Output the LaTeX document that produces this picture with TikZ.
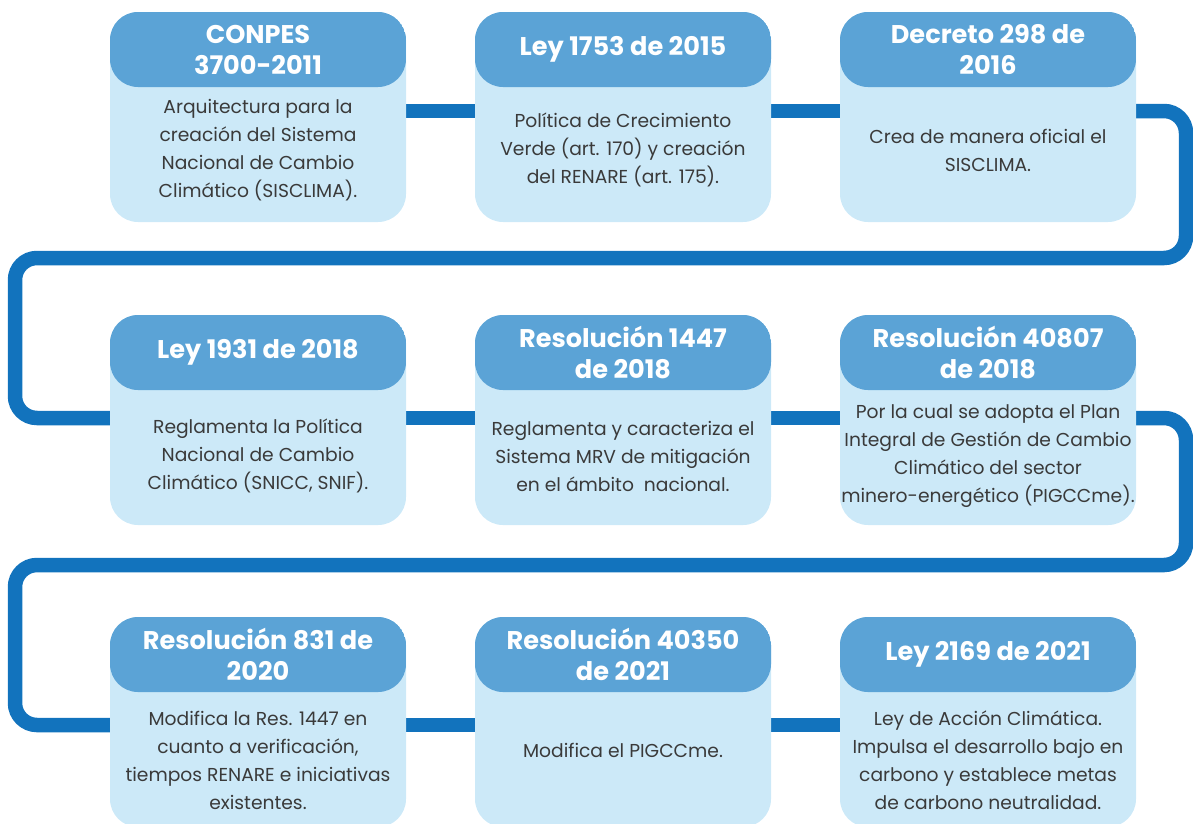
\documentclass[tikz,border=0pt]{standalone}
\usepackage{fontspec}
\setmainfont{Poppins}
\usetikzlibrary{backgrounds}
\definecolor{hdr}{HTML}{5BA3D6}
\definecolor{bodyc}{HTML}{CCE9F8}
\definecolor{conn}{HTML}{1273BD}
\definecolor{txt}{HTML}{3A3A3A}
\tikzset{
  card/.style={rectangle, rounded corners=28pt, minimum width=296pt, minimum height=210pt,
    inner sep=0pt, fill=bodyc,
    path picture={\fill[hdr] (path picture bounding box.north west) rectangle ([yshift=-75pt]path picture bounding box.north east);}},
  titletext/.style={text=white, font=\fontsize{25.6}{31}\selectfont\bfseries, align=center, inner sep=0pt},
  bodytext/.style={text=txt, font=\fontsize{18.7}{28}\selectfont, align=center, inner sep=0pt},
  conline/.style={draw=conn, line width=14.5pt, rounded corners=22pt}
}
\newcommand\mycard[6]{%
  \node[card] (#1) at (#2,#3+105) {};
  \node[titletext] (#1t) at (#2,#3+37.5) {#4};
  \node[bodytext] (#1b) at (#2,#6) {#5};
}
\begin{document}
\begin{tikzpicture}[x=1pt,y=-1pt]
\useasboundingbox (0,0) rectangle (1193,823);
\mycard{c1}{258}{12}{CONPES\\3700-2011}{Arquitectura para la\\creación del Sistema\\Nacional de Cambio\\Climático (SISCLIMA).}{150}
\mycard{c2}{623}{12}{Ley 1753 de 2015}{Política de Crecimiento\\Verde (art. 170) y creación\\del RENARE (art. 175).}{150}
\mycard{c3}{988}{12}{Decreto 298 de\\2016}{Crea de manera oficial el\\SISCLIMA.}{150}
\mycard{c4}{258}{315}{Ley 1931 de 2018}{Reglamenta la Política\\Nacional de Cambio\\Climático (SNICC, SNIF).}{456}
\mycard{c5}{623}{315}{Resolución 1447\\de 2018}{Reglamenta y caracteriza el\\Sistema MRV de mitigación\\en el ámbito\ \ nacional.}{456}
\mycard{c6}{988}{315}{Resolución 40807\\de 2018}{Por la cual se adopta el Plan\\Integral de Gestión de Cambio\\Climático del sector\\minero-energético (PIGCCme).}{456}
\mycard{c7}{258}{617}{Resolución 831 de\\2020}{Modifica la Res. 1447 en\\cuanto a verificación,\\tiempos RENARE e iniciativas\\existentes.}{760}
\mycard{c8}{623}{617}{Resolución 40350\\de 2021}{Modifica el PIGCCme.}{750}
\mycard{c9}{988}{617}{Ley 2169 de 2021}{Ley de Acción Climática.\\Impulsa el desarrollo bajo en\\carbono y establece metas\\de carbono neutralidad.}{760}
\coordinate (r1a) at (1186,111);
\coordinate (r1b) at (1186,258);
\coordinate (l1a) at (15,258);
\coordinate (l1b) at (15,418);
\coordinate (r2a) at (1186,418);
\coordinate (r2b) at (1186,565);
\coordinate (l2a) at (15,565);
\coordinate (l2b) at (15,725);
\begin{scope}[on background layer]
\draw[conline] ([yshift=6pt]c1.east) -- ([yshift=6pt]c2.west);
\draw[conline] ([yshift=6pt]c2.east) -- ([yshift=6pt]c3.west);
\draw[conline] ([yshift=6pt]c3.east) -- (r1a) -- (r1b) -- (l1a) -- (l1b) -- ([yshift=2pt]c4.west);
\draw[conline] ([yshift=2pt]c4.east) -- ([yshift=2pt]c5.west);
\draw[conline] ([yshift=2pt]c5.east) -- ([yshift=2pt]c6.west);
\draw[conline] ([yshift=2pt]c6.east) -- (r2a) -- (r2b) -- (l2a) -- (l2b) -- ([yshift=-3pt]c7.west);
\draw[conline] ([yshift=-3pt]c7.east) -- ([yshift=-3pt]c8.west);
\draw[conline] ([yshift=-3pt]c8.east) -- ([yshift=-3pt]c9.west);
\end{scope}
\end{tikzpicture}
\end{document}
